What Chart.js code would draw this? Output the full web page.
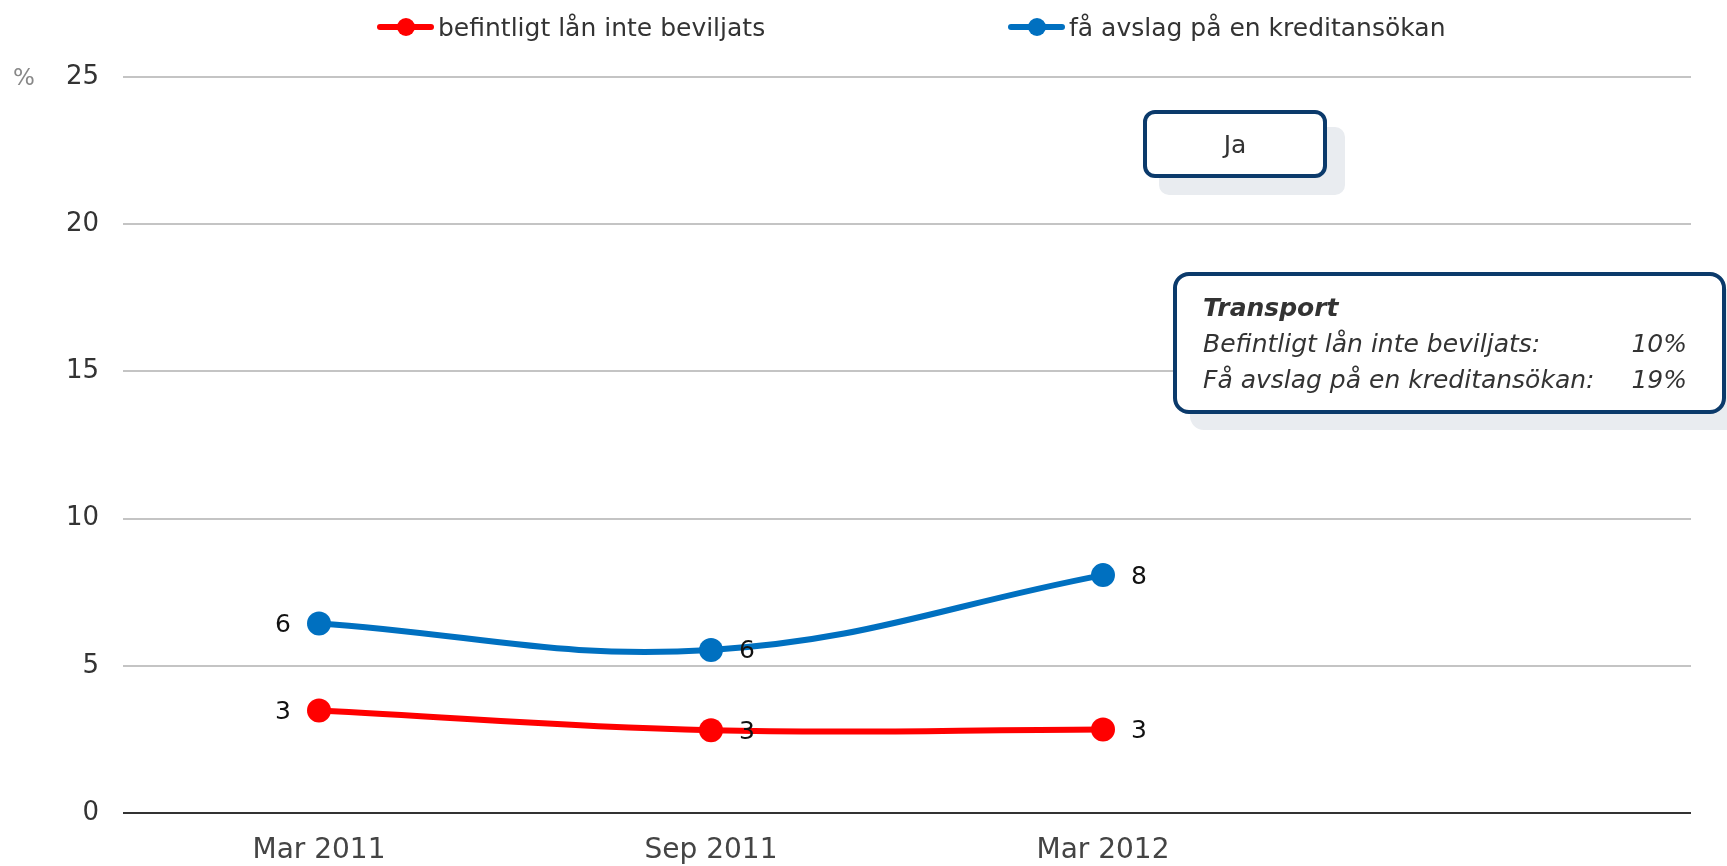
<!DOCTYPE html>
<html>
<head>
<meta charset="utf-8">
<script src="https://cdn.jsdelivr.net/npm/chart.js@4.4.0/dist/chart.umd.min.js"></script>
<style>
  html, body { margin: 0; padding: 0; background: #fff; }
  #wrap { position: relative; width: 1727px; height: 866px; }
  canvas { position: absolute; left: 0; top: 0; }
  .legend-item { position: absolute; top: 9px; height: 36px; display: flex; align-items: center;
                 font-family: "DejaVu Sans", sans-serif; font-size: 25px; color: #333; white-space: nowrap; }
  .marker { position: relative; width: 57px; height: 36px; margin-right: 4px; }
  .marker .ln { position: absolute; left: 0; right: 0; top: 15px; height: 6px; border-radius: 3px; }
  .marker .dot { position: absolute; left: 20px; top: 9px; width: 18px; height: 18px; border-radius: 50%; }
</style>
</head>
<body>
<div id="wrap">
  <canvas id="chart" width="1727" height="866"></canvas>
  <div class="legend-item" style="left:377px">
    <span class="marker"><span class="ln" style="background:#ff0000"></span><span class="dot" style="background:#ff0000"></span></span>
    <span id="leg0"></span>
  </div>
  <div class="legend-item" style="left:1008px">
    <span class="marker"><span class="ln" style="background:#0070c0"></span><span class="dot" style="background:#0070c0"></span></span>
    <span id="leg1"></span>
  </div>
</div>
<script>
// ---------------- data ----------------
const categories = ['Mar 2011', 'Sep 2011', 'Mar 2012', ''];
const seriesNames = ['befintligt lån inte beviljats', 'få avslag på en kreditansökan'];
const existingLoanRefused = [3.48, 2.81, 2.84, null];
const creditRejected = [6.44, 5.54, 8.08, null];
const yTicks = [0, 5, 10, 15, 20, 25];

// annotation texts
const selectedLabel = 'Ja';
const tipTitle = 'Transport';
const tipRows = ['Befintligt lån inte beviljats:', 'Få avslag på en kreditansökan:'];
const tipValues = ['10%', '19%'];

const RED = '#ff0000';
const BLUE = '#0070c0';
const NAVY = '#0b3a6b';
const FONT = '"DejaVu Sans"';

document.getElementById('leg0').textContent = seriesNames[0];
document.getElementById('leg1').textContent = seriesNames[1];

function roundBox(ctx, x, y, w, h, r, fill, stroke, lw) {
    ctx.beginPath();
    ctx.roundRect(x, y, w, h, r);
    ctx.fillStyle = fill;
    ctx.fill();
    if (stroke) {
        ctx.lineWidth = lw;
        ctx.strokeStyle = stroke;
        ctx.stroke();
    }
}

// value labels next to points + the two boxes
const overlay = {
    id: 'overlay',
    afterDatasetsDraw(chart) {
        const ctx = chart.ctx;
        ctx.save();
        ctx.font = '25px ' + FONT;
        ctx.fillStyle = '#111';
        ctx.textAlign = 'center';
        ctx.textBaseline = 'middle';
        chart.data.datasets.forEach((ds, i) => {
            chart.getDatasetMeta(i).data.forEach((pt, j) => {
                const v = ds.data[j];
                if (v == null) return;
                const dx = j === 0 ? -36 : 36;
                ctx.fillText(String(Math.round(v)), pt.x + dx, pt.y + 2);
            });
        });
        ctx.restore();
    },
    afterDraw(chart) {
        const ctx = chart.ctx;
        ctx.save();
        // % unit
        ctx.font = '23px ' + FONT;
        ctx.fillStyle = '#888';
        ctx.textAlign = 'center';
        ctx.textBaseline = 'middle';
        ctx.fillText('%', 24, 79);

        // "Ja" box
        roundBox(ctx, 1159, 127, 186, 68, 10, '#e9ecf0');
        roundBox(ctx, 1145, 112, 180, 64, 10, '#fff', NAVY, 4);
        ctx.font = '25px ' + FONT;
        ctx.fillStyle = '#333';
        ctx.fillText(selectedLabel, 1235, 146);

        // tooltip box
        roundBox(ctx, 1190, 289, 560, 141, 14, '#e9ecf0');
        roundBox(ctx, 1175, 274, 549, 138, 14, '#fff', NAVY, 4);
        ctx.textAlign = 'left';
        ctx.fillStyle = '#333';
        ctx.font = 'italic bold 25px ' + FONT;
        ctx.fillText(tipTitle, 1203, 309);
        ctx.font = 'italic 25px ' + FONT;
        tipRows.forEach((t, k) => ctx.fillText(t, 1203, 345 + k * 36));
        ctx.textAlign = 'right';
        tipValues.forEach((t, k) => ctx.fillText(t, 1687, 345 + k * 36));
        ctx.restore();
    }
};

const ctx = document.getElementById('chart').getContext('2d');

new Chart(ctx, {
    type: 'line',
    data: {
        labels: categories,
        datasets: [
            {
                label: seriesNames[0],
                data: existingLoanRefused,
                borderColor: RED,
                backgroundColor: RED,
                pointBackgroundColor: RED,
                borderWidth: 6,
                pointRadius: 12,
                pointBorderWidth: 0,
                tension: 0.4
            },
            {
                label: seriesNames[1],
                data: creditRejected,
                borderColor: BLUE,
                backgroundColor: BLUE,
                pointBackgroundColor: BLUE,
                borderWidth: 6,
                pointRadius: 12,
                pointBorderWidth: 0,
                tension: 0.4
            }
        ]
    },
    options: {
        responsive: false,
        devicePixelRatio: 1,
        animation: false,
        layout: { padding: { top: 77, right: 36, left: 0, bottom: 0 } },
        plugins: {
            legend: { display: false },
            tooltip: { enabled: false }
        },
        scales: {
            x: {
                offset: true,
                grid: { display: false, drawTicks: false },
                border: { display: false },
                ticks: {
                    padding: 21,
                    color: '#444',
                    font: { family: 'DejaVu Sans', size: 28 }
                },
                afterFit: s => { s.height = 53; }
            },
            y: {
                min: 0,
                max: 25,
                afterBuildTicks: s => { s.ticks = yTicks.map(v => ({ value: v })); },
                border: { display: false },
                grid: {
                    drawTicks: false,
                    lineWidth: 2,
                    color: c => (c.tick && c.tick.value === 0) ? '#333' : '#c4c4c4'
                },
                ticks: {
                    padding: 24,
                    color: '#333',
                    font: { family: 'DejaVu Sans', size: 26 }
                },
                afterFit: s => { s.width = 123; }
            }
        }
    },
    plugins: [overlay]
});
</script>
</body>
</html>
